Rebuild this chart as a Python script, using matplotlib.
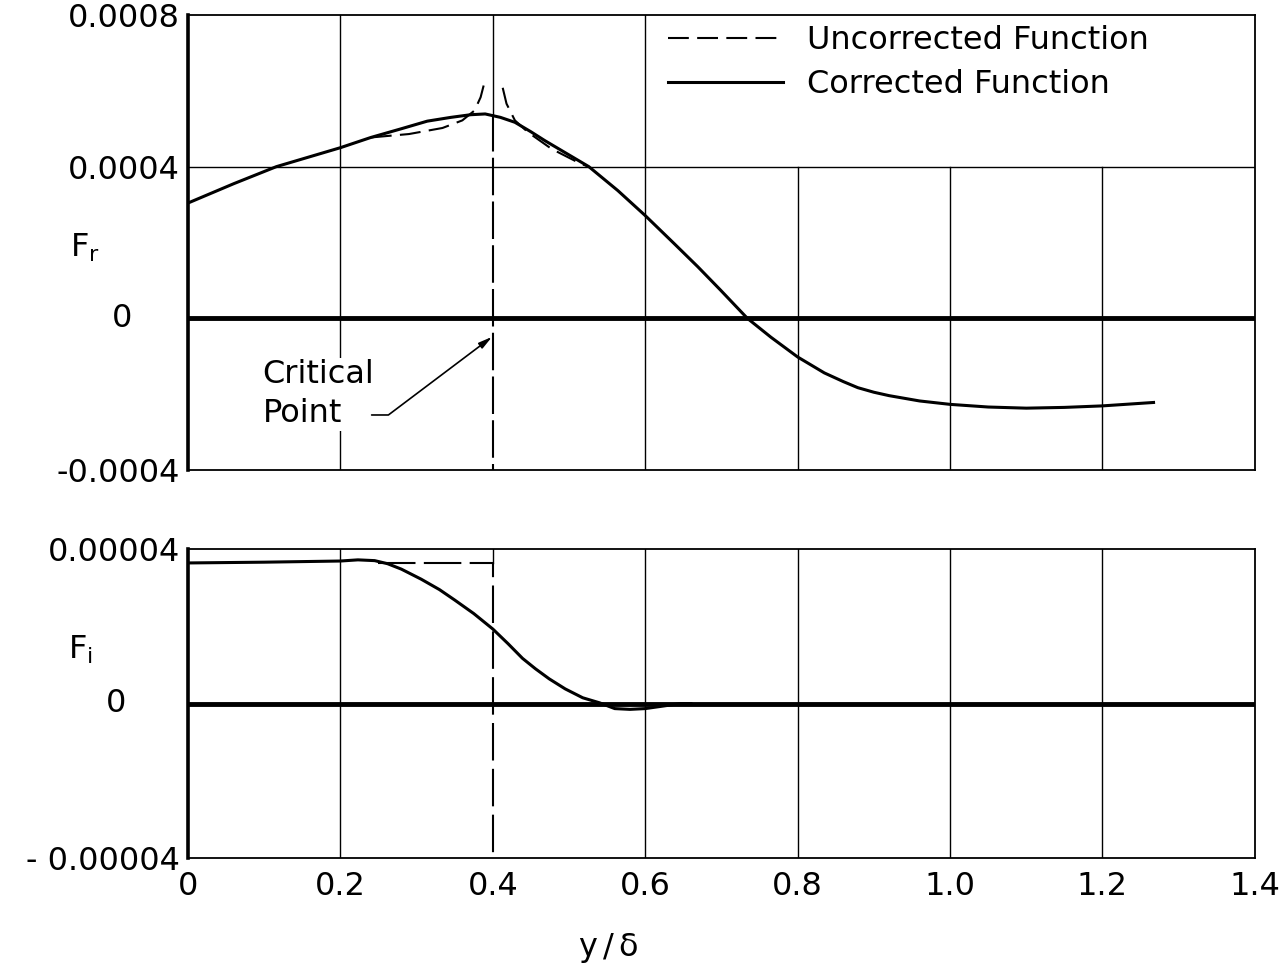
import matplotlib.pyplot as plt
import numpy as np

# F_r, corrected function (values x 1e-4)
fr_x = [0, 0.06, 0.116, 0.2, 0.24, 0.28, 0.314, 0.345, 0.371, 0.39, 0.41, 0.429, 0.45,
        0.468, 0.526, 0.564, 0.6, 0.638, 0.669, 0.699, 0.734, 0.765, 0.8, 0.835, 0.86,
        0.879, 0.9, 0.92, 0.96, 1.0, 1.05, 1.1, 1.15, 1.2, 1.267]
fr_y = [3.04, 3.55, 4.0, 4.5, 4.77, 5.0, 5.2, 5.3, 5.37, 5.39, 5.3, 5.17, 4.92,
        4.69, 4.0, 3.37, 2.71, 1.97, 1.36, 0.74, 0.0, -0.5, -1.02, -1.44, -1.67,
        -1.83, -1.95, -2.04, -2.18, -2.27, -2.34, -2.37, -2.35, -2.31, -2.22]

# F_r, uncorrected function near the critical point (values x 1e-4)
fr_unc_left_x = [0.24, 0.29, 0.334, 0.36, 0.376, 0.384, 0.388]
fr_unc_left_y = [4.77, 4.86, 5.02, 5.22, 5.48, 5.83, 6.14]
fr_unc_right_x = [0.413, 0.418, 0.429, 0.446, 0.477, 0.516, 0.526]
fr_unc_right_y = [6.08, 5.66, 5.22, 4.91, 4.47, 4.07, 4.0]

# F_i, corrected function (values x 1e-5)
fi_x = [0, 0.1, 0.2, 0.223, 0.245, 0.262, 0.28, 0.306, 0.33, 0.35, 0.375, 0.4, 0.42,
        0.439, 0.456, 0.474, 0.495, 0.518, 0.54, 0.56, 0.58, 0.6, 0.625, 0.646, 0.66]
fi_y = [3.64, 3.66, 3.69, 3.72, 3.7, 3.62, 3.48, 3.22, 2.95, 2.68, 2.33, 1.93, 1.55,
        1.17, 0.9, 0.64, 0.38, 0.15, 0.02, -0.13, -0.15, -0.13, -0.06, 0.0, 0.0]

# F_i, uncorrected function (values x 1e-5)
fi_unc_x = [0.25, 0.4, 0.4]
fi_unc_y = [3.64, 3.64, -4.0]

crit_x = 0.4
x_ticks = [0, 0.2, 0.4, 0.6, 0.8, 1.0, 1.2, 1.4]
x_tick_labels = ['0', '0.2', '0.4', '0.6', '0.8', '1.0', '1.2', '1.4']

fr_y = np.array(fr_y) * 1e-4
fr_unc_left_y = np.array(fr_unc_left_y) * 1e-4
fr_unc_right_y = np.array(fr_unc_right_y) * 1e-4
fi_y = np.array(fi_y) * 1e-5
fi_unc_y = np.array(fi_unc_y) * 1e-5

FS = 23
DASH = (10, 4)
plt.rcParams['font.family'] = ['DejaVu Sans']

fig = plt.figure(figsize=(12.83, 9.74), dpi=100)
ax1 = fig.add_axes([0.1465, 0.5175, 0.8316, 0.4671])
ax2 = fig.add_axes([0.1465, 0.119, 0.8316, 0.3173])

grid_kw = dict(color='black', lw=1.0, zorder=1)

# ---- top panel
ax1.set_xlim(0, 1.4)
ax1.set_ylim(-0.0004, 0.0008)
ax1.axhline(0.0004, **grid_kw)
ax1.axhline(0, color='black', lw=3.5, zorder=2)
for xv in [0.2, 0.6]:
    ax1.axvline(xv, **grid_kw)
for xv in [0.8, 1.0, 1.2]:
    ax1.plot([xv, xv], [-0.0004, 0.0004], **grid_kw)
ax1.plot([crit_x, crit_x], [fr_y[9], 0.0008], **grid_kw)

ax1.plot(fr_x, fr_y, color='black', lw=2.2, zorder=4, label='Corrected Function')
l1, = ax1.plot(fr_unc_left_x, fr_unc_left_y, color='black', lw=1.5, zorder=3,
               label='Uncorrected Function')
l1.set_dashes(DASH)
l2, = ax1.plot(fr_unc_right_x, fr_unc_right_y, color='black', lw=1.5, zorder=3)
l2.set_dashes(DASH)
l3, = ax1.plot([crit_x, crit_x], [fr_y[9], -0.0004], color='black', lw=1.5, zorder=3)
l3.set_dashes((18, 3))

ax1.set_xticks([])
ax1.set_yticks([-0.0004, 0.0004, 0.0008])
ax1.set_yticklabels(['-0.0004', '0.0004', '0.0008'])
ax1.text(-0.062, 0, '0', transform=ax1.get_yaxis_transform(), ha='center', va='center',
         fontsize=FS)

handles, labels = ax1.get_legend_handles_labels()
ax1.legend(handles[::-1], labels[::-1], loc='upper left', bbox_to_anchor=(0.45, 0.978),
           frameon=False, fontsize=FS, handlelength=3.6, handletextpad=0.75,
           labelspacing=0.4, borderpad=0, borderaxespad=0)

ax1.text(0.098, -0.0002, 'Critical\nPoint', fontsize=FS, ha='left', va='center',
         linespacing=1.35, zorder=5,
         bbox=dict(facecolor='white', edgecolor='none', pad=1))
ax1.annotate('', xy=(0.399, -0.000049), xytext=(0.241, -0.000255),
             arrowprops=dict(arrowstyle='-|>,head_length=0.8,head_width=0.2', color='black',
                             lw=1.2, connectionstyle='angle,angleA=0,angleB=37,rad=0',
                             shrinkA=0, shrinkB=0),
             zorder=6)

# ---- bottom panel
ax2.set_xlim(0, 1.4)
ax2.set_ylim(-0.00004, 0.00004)
ax2.axhline(0, color='black', lw=3.5, zorder=2)
for xv in [0.2, 0.6, 0.8, 1.0, 1.2]:
    ax2.axvline(xv, **grid_kw)
ax2.plot([crit_x, crit_x], [fi_unc_y[1], 0.00004], **grid_kw)

ax2.plot(fi_x, fi_y, color='black', lw=2.2, zorder=4)
l4, = ax2.plot(fi_unc_x, fi_unc_y, color='black', lw=1.5, zorder=3)
l4.set_dashes((18, 4))

ax2.set_xticks(x_ticks)
ax2.set_xticklabels(x_tick_labels)
ax2.set_yticks([-0.00004, 0.00004])
ax2.set_yticklabels(['- 0.00004', '0.00004'])
ax2.text(-0.067, 0, '0', transform=ax2.get_yaxis_transform(), ha='center', va='center',
         fontsize=FS)

for ax in (ax1, ax2):
    ax.tick_params(length=0, labelsize=FS)
    ax.tick_params(axis='y', pad=6)
    ax.tick_params(axis='x', pad=9)
    for s in ['top', 'right', 'bottom']:
        ax.spines[s].set_linewidth(1.3)
    ax.spines['left'].set_linewidth(2.6)

fig.text(85 / 1283, 1 - 248 / 974, r'$\mathregular{F_r}$', fontsize=FS, ha='center',
         va='center')
fig.text(80 / 1283, 1 - 650 / 974, r'$\mathregular{F_i}$', fontsize=FS, ha='center',
         va='center')
fig.text(608 / 1283, 1 - 948 / 974, r'$\mathregular{y\,/\,\delta}$', fontsize=FS,
         ha='center', va='center')

fig.savefig('out.png', dpi=100, facecolor='white')
